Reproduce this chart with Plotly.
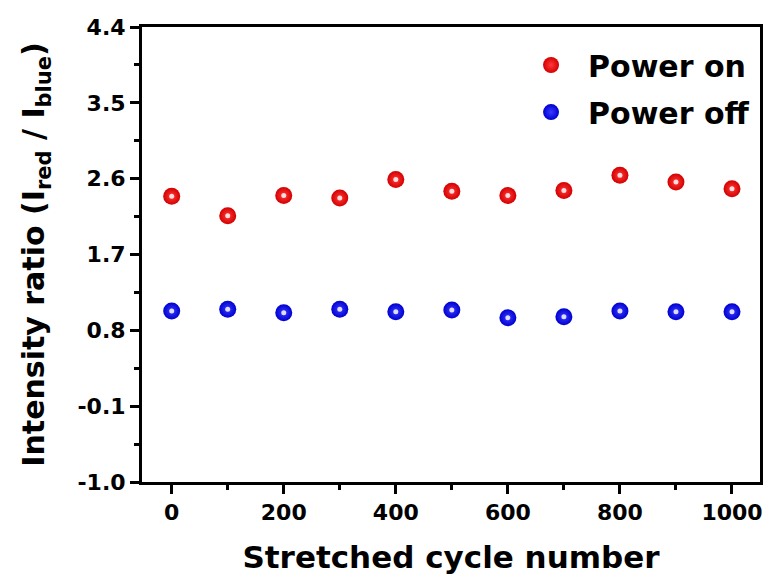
import plotly.graph_objects as go

cycles = [0, 100, 200, 300, 400, 500, 600, 700, 800, 900, 1000]
power_on = [2.39, 2.16, 2.40, 2.37, 2.59, 2.45, 2.40, 2.46, 2.64, 2.56, 2.48]
power_off = [1.03, 1.05, 1.01, 1.05, 1.02, 1.04, 0.95, 0.96, 1.03, 1.02, 1.02]

y_ticks = [-1.0, -0.1, 0.8, 1.7, 2.6, 3.5, 4.4]
y_labels = ["-1.0", "-0.1", "0.8", "1.7", "2.6", "3.5", "4.4"]
y_minor = [-0.55, 0.35, 1.25, 2.15, 3.05, 3.95]
x_ticks = [0, 200, 400, 600, 800, 1000]
x_minor = [100, 300, 500, 700, 900]

FONT = "DejaVu Sans"

fig = go.Figure()

def sphere(name, y, edge, center, hi, legend):
    fig.add_trace(go.Scatter(
        x=cycles, y=y, mode="markers", name=name, legend=legend,
        marker=dict(size=17, color=edge, line=dict(width=0),
                    gradient=dict(type="radial", color=center)),
    ))
    fig.add_trace(go.Scatter(
        x=cycles, y=y, mode="markers", showlegend=False, hoverinfo="skip",
        marker=dict(size=5, color=hi, opacity=0.9, line=dict(width=0)),
    ))

sphere("Power on", power_on, "#d40000", "#ff3a3a", "#fff0f0", "legend")
sphere("Power off", power_off, "#0000d0", "#3a3aff", "#f0f0ff", "legend2")

axis_common = dict(
    showline=True, linewidth=3, linecolor="black", mirror=True,
    ticks="outside", ticklen=9, tickwidth=3, tickcolor="black",
    showgrid=False, zeroline=False,
    tickfont=dict(family=FONT, size=22, color="black", weight="bold"),
)

fig.update_xaxes(
    **axis_common,
    range=[-53, 1050], tickvals=x_ticks,
    minor=dict(tickvals=x_minor, ticklen=5, tickwidth=3, tickcolor="black", ticks="outside"),
    title=dict(text="Stretched cycle number", standoff=22,
               font=dict(family=FONT, size=31, color="black", weight="bold")),
)
fig.update_yaxes(
    **axis_common,
    range=[-1.0, 4.4], tickvals=y_ticks, ticktext=y_labels,
    minor=dict(tickvals=y_minor, ticklen=5, tickwidth=3, tickcolor="black", ticks="outside"),
    title=dict(text="Intensity ratio (I<sub>red</sub> / I<sub>blue</sub>)", standoff=24,
               font=dict(family=FONT, size=30, color="black", weight="bold")),
)

legend_common = dict(
    font=dict(family=FONT, size=30, color="black", weight="bold"),
    bgcolor="rgba(0,0,0,0)", borderwidth=0, itemwidth=64,
    xanchor="left", yanchor="middle",
)

fig.update_layout(
    width=770, height=584,
    margin=dict(l=142, r=7, t=27, b=102),
    paper_bgcolor="white", plot_bgcolor="white",
    legend=dict(**legend_common, x=0.602, y=0.9165),
    legend2=dict(**legend_common, x=0.602, y=0.813),
)

fig.write_html("out.html")
